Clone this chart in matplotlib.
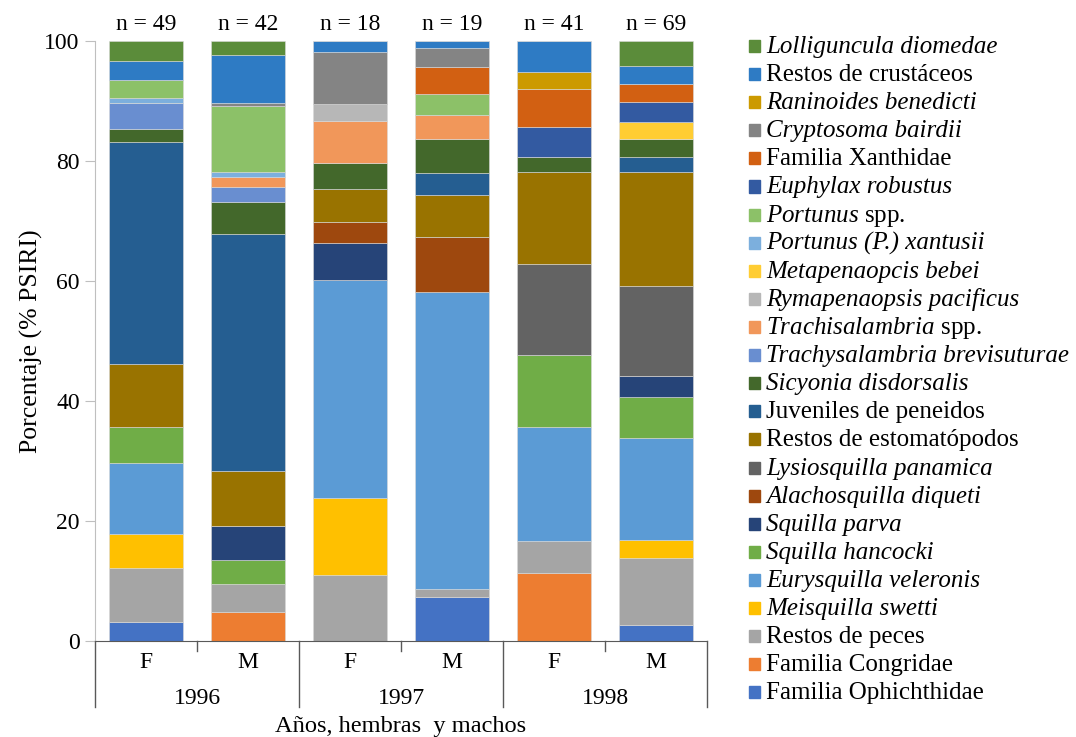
import matplotlib
matplotlib.use('Agg')
import numpy as np
import matplotlib.pyplot as plt
from matplotlib.patches import Rectangle

plt.rcParams['font.family'] = ['Liberation Serif', 'DejaVu Serif']
plt.rcParams['mathtext.fontset'] = 'custom'
plt.rcParams['mathtext.it'] = 'Liberation Serif:italic'
plt.rcParams['mathtext.rm'] = 'Liberation Serif'

#==================================================
#   data (% PSIRI), bars: 1996 F, 1996 M, 1997 F, 1997 M, 1998 F, 1998 M
#==================================================
sexes  = ['F', 'M', 'F', 'M', 'F', 'M']
years  = ['1996', '1997', '1998']
n_vals = [49, 42, 18, 19, 41, 69]

ophichthidae         = [3.1, 0.0, 0.0, 7.4, 0.0, 2.7]
congridae            = [0.0, 4.8, 0.0, 0.0, 11.4, 0.0]
restos_peces         = [9.0, 4.7, 11.0, 1.2, 5.2, 11.1]
meisquilla           = [5.7, 0.0, 12.8, 0.0, 0.0, 3.0]
eurysquilla          = [11.8, 0.0, 36.3, 49.6, 19.0, 17.1]
squilla_hancocki     = [6.0, 4.0, 0.0, 0.0, 12.0, 6.8]
squilla_parva        = [0.0, 5.7, 6.2, 0.0, 0.0, 3.4]
alachosquilla        = [0.0, 0.0, 3.6, 9.1, 0.0, 0.0]
lysiosquilla         = [0.0, 0.0, 0.0, 0.0, 15.2, 15.1]
restos_estomatopodos = [10.6, 9.1, 5.5, 7.0, 15.3, 18.9]
juveniles            = [36.9, 39.6, 0.0, 3.7, 0.0, 2.5]
sicyonia             = [2.2, 5.2, 4.2, 5.7, 2.6, 3.1]
trachy_brevisuturae  = [4.4, 2.5, 0.0, 0.0, 0.0, 0.0]
trachisalambria_spp  = [0.0, 1.8, 7.0, 3.9, 0.0, 0.0]
rymapenaopsis        = [0.0, 0.0, 2.9, 0.0, 0.0, 0.0]
metapenaopcis        = [0.0, 0.0, 0.0, 0.0, 0.0, 2.8]
portunus_xantusii    = [0.8, 0.7, 0.0, 0.0, 0.0, 0.0]
portunus_spp         = [3.0, 11.1, 0.0, 3.5, 0.0, 0.0]
euphylax             = [0.0, 0.0, 0.0, 0.0, 4.9, 3.3]
xanthidae            = [0.0, 0.0, 0.0, 4.5, 6.4, 3.1]
cryptosoma           = [0.0, 0.4, 8.7, 3.3, 0.0, 0.0]
raninoides           = [0.0, 0.0, 0.0, 0.0, 2.8, 0.0]
restos_crustaceos    = [3.1, 8.0, 1.8, 1.1, 5.2, 3.0]
lolliguncula         = [3.4, 2.4, 0.0, 0.0, 0.0, 4.1]

# bottom -> top stacking order (legend shows it reversed)
series = [ophichthidae, congridae, restos_peces, meisquilla, eurysquilla,
          squilla_hancocki, squilla_parva, alachosquilla, lysiosquilla,
          restos_estomatopodos, juveniles, sicyonia, trachy_brevisuturae,
          trachisalambria_spp, rymapenaopsis, metapenaopcis, portunus_xantusii,
          portunus_spp, euphylax, xanthidae, cryptosoma, raninoides,
          restos_crustaceos, lolliguncula]
labels = ['Familia Ophichthidae', 'Familia Congridae', 'Restos de peces',
          'Meisquilla swetti', 'Eurysquilla veleronis', 'Squilla hancocki',
          'Squilla parva', 'Alachosquilla diqueti', 'Lysiosquilla panamica',
          'Restos de estomatópodos', 'Juveniles de peneidos', 'Sicyonia disdorsalis',
          'Trachysalambria brevisuturae', r'$\mathit{Trachisalambria}$ spp.',
          'Rymapenaopsis pacificus', 'Metapenaopcis bebei', 'Portunus (P.) xantusii',
          r'$\mathit{Portunus}$ spp.', 'Euphylax robustus', 'Familia Xanthidae',
          'Cryptosoma bairdii', 'Raninoides benedicti', 'Restos de crustáceos',
          'Lolliguncula diomedae']
italic = [False, False, False, True, True, True, True, True, True, False, False,
          True, True, False, True, True, True, False, True, False, True, True,
          False, True]
colors = ['#4472c4', '#ed7d31', '#a5a5a5', '#ffc000', '#5b9bd5', '#70ad47',
          '#264478', '#9e480e', '#636363', '#997300', '#255e91', '#43682b',
          '#698ed0', '#f1975a', '#b7b7b7', '#ffcd33', '#7cafdd', '#8cc168',
          '#335aa1', '#d26012', '#848484', '#cc9a00', '#2e7bc4', '#5b8c3a']

fs = 17
fig = plt.figure(figsize=(10.76, 7.37), dpi=100)
ax = fig.add_axes([95/1076, 96/737, 612/1076, 600/737])

x = np.arange(len(sexes))
bottom = np.zeros(len(sexes))
for vals, col in zip(series, colors):
    ax.bar(x, vals, 0.72, bottom=bottom, color=col, edgecolor='#d9d9d9', linewidth=0.4)
    bottom += np.array(vals)

ax.set_xlim(-0.5, 5.5)
ax.set_ylim(0, 100)
ax.set_yticks(range(0, 101, 20))
ax.tick_params(axis='y', labelsize=fs, length=7, color='#bfbfbf', pad=4)
ax.set_xticks(x)
ax.set_xticklabels(sexes)
ax.tick_params(axis='x', labelsize=fs, length=0, pad=8)
for s in ['top', 'right']:
    ax.spines[s].set_visible(False)
ax.spines['left'].set_color('#bfbfbf')
ax.spines['bottom'].set_color('#595959')
ax.set_ylabel('Porcentaje (% PSIRI)', fontsize=18.5, labelpad=1)

# n labels above bars
for xi, n in zip(x, n_vals):
    ax.text(xi, 101.0, 'n = %d' % n, ha='center', va='bottom', fontsize=fs)

# multi-level category axis
tr = ax.get_xaxis_transform()
for xb in [-0.5, 1.5, 3.5, 5.5]:
    ax.plot([xb, xb], [0, -0.11], transform=tr, color='#595959', lw=1, clip_on=False)
for xm in [0.5, 2.5, 4.5]:
    ax.plot([xm, xm], [0, -0.016], transform=tr, color='#595959', lw=1, clip_on=False)
for i, yr in enumerate(years):
    ax.text(2 * i + 0.5, -0.095, yr, transform=tr, ha='center', va='center', fontsize=fs)
ax.text(2.5, -0.143, 'Años, hembras  y machos', transform=tr, ha='center', va='center',
        fontsize=17.6)

# legend drawn by hand, top entry = last series
W, H = 1076.0, 737.0
row0, step = 46.0, 28.1
for k, i in enumerate(range(len(series) - 1, -1, -1)):
    yc = row0 + k * step
    fig.patches.append(Rectangle((749 / W, 1 - (yc + 6) / H), 11 / W, 12 / H,
                                 transform=fig.transFigure, color=colors[i]))
    fig.text(766 / W, 1 - (yc + 1) / H, labels[i], fontsize=18, va='center', ha='left',
             fontstyle='italic' if italic[i] else 'normal')

plt.savefig('out.png', dpi=100)
